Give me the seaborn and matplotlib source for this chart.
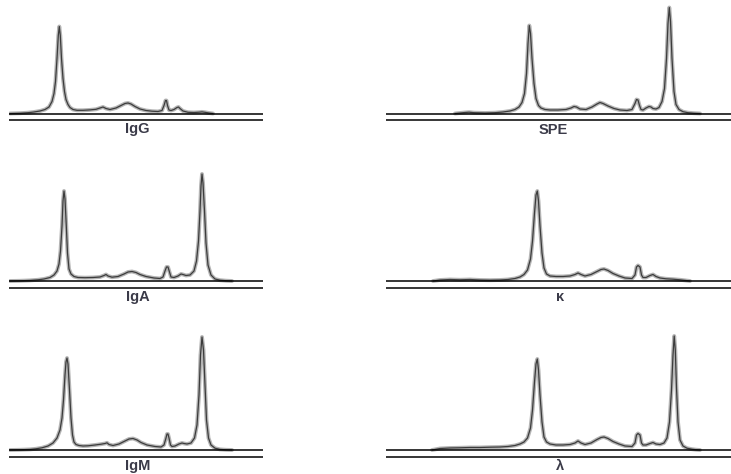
import matplotlib
matplotlib.use("Agg")
import matplotlib.pyplot as plt
import seaborn as sns
import pandas as pd

# densitometry traces: (mobility, height above baseline)
igg = [(10, 0), (20, 0.3), (28, 0.8), (34, 1.5), (40, 2.5), (45, 4), (49, 6.5), (52, 12),
       (54, 20), (55.5, 32), (57, 55), (58.3, 78), (59.3, 87), (60.3, 78), (61.5, 55),
       (63, 35), (64.5, 22), (66, 14), (68, 9), (70, 6), (73, 4), (77, 3.2), (83, 3.2),
       (90, 3.6), (96, 4.2), (100, 5.5), (103, 6.5), (106, 5), (110, 4), (116, 5.5),
       (121, 8), (125, 10), (128, 10.5), (131, 9.5), (135, 7), (140, 4.5), (146, 3),
       (152, 2.3), (158, 2), (162, 3), (164, 8), (165.5, 13), (166.5, 13), (167.5, 8),
       (169, 3.5), (171, 3), (174, 4), (177, 6), (178.5, 6.5), (180, 5), (183, 2.5),
       (188, 1.2), (194, 1), (199, 1.3), (202, 1.6), (205, 1.2), (209, 0.5), (213, 0)]

iga = [(10, 0), (20, 0.2), (30, 0.6), (38, 1.2), (44, 2), (50, 3.5), (54, 6), (57, 10),
       (59, 17), (60.5, 30), (62, 55), (63, 80), (64, 90), (65, 82), (66.3, 55),
       (67.5, 28), (69, 12), (71, 7), (74, 4.5), (78, 3.5), (85, 3.3), (93, 3.5),
       (100, 4), (104, 5.5), (106, 6.5), (108, 5), (112, 3.8), (118, 4.5), (124, 7),
       (128, 9), (132, 9.5), (136, 8.5), (140, 6.5), (146, 4.5), (154, 3), (160, 2.5),
       (163, 4), (165, 10), (166.5, 14), (168, 14), (169.5, 9), (171, 4), (174, 3.5),
       (178, 5), (181, 7), (183, 6.5), (186, 5.5), (190, 6), (194, 10), (196.5, 20),
       (198.5, 40), (200, 70), (201, 95), (202, 107), (203, 98), (204.5, 70), (206, 38),
       (208, 16), (211, 6), (215, 2), (220, 0.8), (226, 0.3), (232, 0)]

igm = [(10, 0), (20, 0.2), (30, 0.6), (36, 1.2), (42, 2.2), (48, 4), (53, 7), (57, 12),
       (60, 20), (62, 32), (63.5, 50), (65, 75), (66, 88), (67, 92), (68, 86),
       (69.5, 60), (71, 32), (72.5, 15), (74, 8), (76, 5.5), (79, 4.5), (83, 4),
       (88, 4.2), (95, 5), (101, 5.8), (105, 6.5), (107, 7.2), (109, 5.5), (113, 4.5),
       (119, 6), (125, 9), (129, 11), (133, 11.5), (137, 10), (141, 7.5), (147, 5),
       (155, 3.5), (161, 3), (164, 5), (166, 12), (167, 16), (168, 16), (169, 12),
       (170.5, 5), (172, 3.5), (175, 4), (179, 6), (182, 7), (184, 6.5), (187, 6),
       (191, 7), (194.5, 12), (197, 25), (199, 55), (200.5, 95), (202, 113),
       (203.5, 100), (205, 65), (206.5, 30), (208.5, 12), (211, 5), (215, 1.8),
       (220, 0.6), (226, 0.2), (232, 0)]

spe = [(455, 0), (460, 0.5), (465, 1), (469, 1.3), (474, 0.8), (485, 0.5), (495, 0.8),
       (503, 1.5), (510, 2.5), (515, 4), (519, 6.5), (522, 11), (524.5, 20), (526.5, 40),
       (528, 70), (529.3, 88), (530.5, 80), (532, 55), (534, 30), (536, 15), (538.5, 8),
       (541, 5.5), (545, 4), (550, 3.5), (558, 3.5), (566, 4), (571, 5.5), (574, 7),
       (576.5, 6.5), (580, 4.5), (586, 4), (592, 6.5), (597, 9.5), (600, 11), (603, 10),
       (608, 7.5), (614, 5), (620, 3.5), (627, 3), (632, 4), (635, 10), (636.5, 14),
       (638, 13.5), (639.5, 8), (641, 4), (643, 3.5), (646, 5.5), (649, 7), (651, 6.5),
       (653, 5), (656, 4.5), (659, 6), (662, 12), (664.5, 25), (666.5, 55), (668, 90),
       (669.3, 106), (670.5, 92), (672, 55), (674, 22), (676, 9), (679, 4), (683, 1.8),
       (688, 0.8), (694, 0.3), (700, 0)]

kappa = [(433, 0), (440, 1), (450, 1.5), (460, 1.2), (470, 1.5), (480, 1), (490, 0.8),
         (500, 1), (508, 1.5), (515, 2.5), (520, 4), (524, 6.5), (527.5, 11), (530.5, 22),
         (532.5, 40), (534.5, 68), (536, 86), (537.3, 90), (538.5, 80), (540, 55),
         (542, 28), (544, 13), (546.5, 7), (550, 5), (556, 4.5), (563, 4.5), (570, 5),
         (575, 6.5), (578, 8), (581, 6.5), (585, 5), (591, 6.5), (597, 9.5), (601, 11.5),
         (604, 12), (608, 10.5), (613, 7.5), (619, 5), (625, 3), (632, 2.5), (635, 6),
         (636.5, 14), (638, 15.5), (640, 14), (641.5, 6), (643, 3.5), (646, 3.5),
         (650, 5.5), (653, 6.5), (656, 4.5), (660, 3), (666, 2.2), (673, 1.8), (680, 1.2),
         (686, 0.5), (690, 0)]

lam = [(432, 0), (440, 1.5), (450, 2), (460, 2.2), (470, 2.5), (480, 2.5), (490, 2.8),
       (500, 3), (508, 3.5), (515, 4.5), (520, 6), (524, 8), (527.5, 12), (530.5, 22),
       (532.5, 40), (534.5, 68), (536, 86), (537.3, 91), (538.5, 80), (540, 55), (542, 28),
       (544, 13), (546.5, 8), (550, 6), (556, 5), (563, 5), (570, 5.5), (575, 7), (578, 9),
       (581, 7), (585, 5.5), (591, 7), (597, 10.5), (601, 12.5), (604, 13), (608, 11.5),
       (613, 8.5), (619, 6), (625, 4), (632, 3.5), (635, 7), (636.5, 15), (638, 16.5),
       (640, 15), (641.5, 7), (643, 5), (646, 5), (650, 6.5), (653, 7.5), (656, 6),
       (660, 5.5), (664, 7), (667, 12), (669.5, 28), (671.5, 60), (673, 95), (674.2, 114),
       (675.3, 100), (676.5, 62), (678, 28), (680, 10), (683, 4), (687, 1.8), (692, 0.8),
       (696, 0.3), (700, 0)]

panels = ["IgG", "SPE", "IgA", "κ", "IgM", "λ"]
traces = [igg, spe, iga, kappa, igm, lam]
label_x = [137, 553, 138, 560, 138, 560]

sns.set_style("white")
plt.rcParams["font.family"] = ["Liberation Sans", "DejaVu Sans"]

W, H = 731, 474
fig = plt.figure(figsize=(W / 100, H / 100), dpi=100)

col_x = [(9, 263), (386, 731)]
row_base = [113.5, 281, 450]

for i, (name, tr) in enumerate(zip(panels, traces)):
    r, c = divmod(i, 2)
    x0, x1 = col_x[c]
    base = row_base[r]
    ax = fig.add_axes([x0 / W, (H - base - 10) / H, (x1 - x0) / W, 130 / H])
    df = pd.DataFrame(tr, columns=["x", "h"])
    # grey halo + darker core, like the scanned trace
    sns.lineplot(data=df, x="x", y="h", ax=ax, sort=False, estimator=None,
                 color="#b4b4b4", lw=2.8)
    sns.lineplot(data=df, x="x", y="h", ax=ax, sort=False, estimator=None,
                 color="#3c3c3c", lw=0.9)
    ax.axhline(0, color="black", lw=1.1)
    ax.axhline(-6.5, color="black", lw=1.1)
    ax.text(label_x[i], -20, name, ha="center", va="baseline", fontsize=10.5,
            fontweight="bold", color="#3a3a48")
    ax.set_xlim(x0, x1)
    ax.set_ylim(-10, 120)
    ax.set_axis_off()

fig.savefig("out.png", dpi=100)
